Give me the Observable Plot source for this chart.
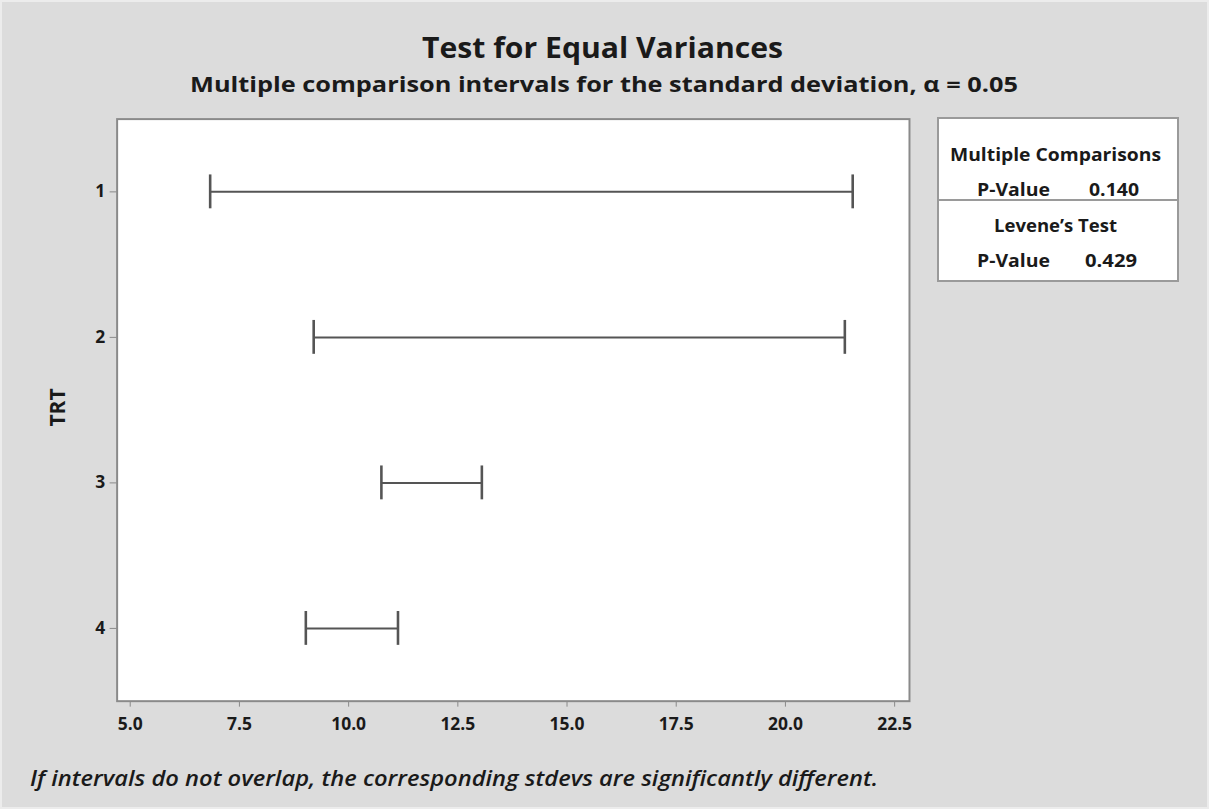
<!DOCTYPE html>
<html>
<head>
<meta charset="utf-8">
<script src="https://cdn.jsdelivr.net/npm/d3@7"></script>
<script src="https://cdn.jsdelivr.net/npm/@observablehq/plot@0.6"></script>
<style>
  html, body { margin: 0; padding: 0; background: #dcdcdc; }
  #wrap { position: relative; width: 1209px; height: 809px; background: #dcdcdc; overflow: hidden;
          font-family: "Open Sans", "Noto Sans", sans-serif; color: #1a1a1a; box-sizing: border-box; border: 2px solid #ececec; }
  .abs { position: absolute; white-space: nowrap; line-height: 1; }
  #title { font-size: 28px; font-weight: 700; }
  #subtitle { font-size: 21.5px; font-weight: 700; }
  #caption { font-size: 21px; font-style: italic; font-weight: 600; }
  #ylab { font-size: 21px; font-weight: 700; }
  #legend { left: 935px; top: 115px; background: #fff; border: 2px solid #9a9a9a; box-sizing: border-box; width: 242px; height: 165px; }
  #legend .t { position: absolute; white-space: nowrap; font-size: 17.5px; font-weight: 700; line-height: 20px; }
  #legend .div { position: absolute; left: 0; width: 100%; top: 80px; height: 0; border-top: 2px solid #9a9a9a; }
  #chart { position: absolute; left: 0; top: 0; }
  #chart svg { color: #8a8a8a; }
  #chart svg text { font-size: 17.5px !important; font-weight: 700 !important; fill: #1a1a1a !important; font-family: "Open Sans", "Noto Sans", sans-serif; }
</style>
</head>
<body>
<div id="wrap">
  <div id="chart"></div>
  <div id="title" class="abs"></div>
  <div id="subtitle" class="abs"></div>
  <div id="caption" class="abs"></div>
  <div id="ylab" class="abs"></div>
  <div id="legend" class="abs"></div>
</div>
<script>
// ---- data ----
const trt = ["1", "2", "3", "4"];
const lower = [6.83, 9.20, 10.75, 9.02];
const upper = [21.54, 21.36, 13.05, 11.13];
const xTicks = [5.0, 7.5, 10.0, 12.5, 15.0, 17.5, 20.0, 22.5];
const yLabel = "TRT";
const titleText = "Test for Equal Variances";
const subtitleText = "Multiple comparison intervals for the standard deviation, \u03B1 = 0.05";
const captionText = "If intervals do not overlap, the corresponding stdevs are significantly different.";
const legendHeads = ["Multiple Comparisons", "Levene\u2019s Test"];
const legendLabels = ["P-Value", "P-Value"];
const legendValues = ["0.140", "0.429"];

const data = trt.map((t, i) => ({trt: t, lo: lower[i], hi: upper[i]}));

// ---- text layout helpers ----
function place(el, text, opts) {
  el.textContent = text;
  el.style.left = "0px";
  el.style.top = "0px";
  const r = el.getBoundingClientRect();
  const s = opts.width ? opts.width / r.width : 1;
  el.style.transformOrigin = "0 50%";
  const left = opts.cx != null ? opts.cx - (r.width * s) / 2 : opts.x;
  el.style.left = left + "px";
  el.style.top = (opts.cy - r.height / 2) + "px";
  el.style.transform = `scaleX(${s})`;
}
const B = 2; // wrap border
place(document.getElementById("title"), titleText, {cx: 602 - B, cy: 47 - B, width: 361});
place(document.getElementById("subtitle"), subtitleText, {cx: 604 - B, cy: 84 - B, width: 828});
place(document.getElementById("caption"), captionText, {x: 30 - B, cy: 778 - B, width: 848});

// rotated y-axis title
{
  const el = document.getElementById("ylab");
  el.textContent = yLabel;
  const r = el.getBoundingClientRect();
  el.style.left = (57 - B - r.width / 2) + "px";
  el.style.top = (407 - B - r.height / 2) + "px";
  el.style.transform = "rotate(-90deg)";
  el.style.transformOrigin = "50% 50%";
}

// legend box
const lg = document.getElementById("legend");
const legendX = 937, legendY = 117;
const items = [
  {text: legendHeads[0], cx: 1053, cy: 152, width: 211},
  {text: legendLabels[0], x: 975, cy: 187, width: 73},
  {text: legendValues[0], x: 1087, cy: 187, width: 50},
  {text: legendHeads[1], cx: 1053, cy: 223, width: 123},
  {text: legendLabels[1], x: 975, cy: 258, width: 73},
  {text: legendValues[1], x: 1083, cy: 258, width: 52},
];
for (const it of items) {
  const d = document.createElement("div");
  d.className = "t";
  lg.appendChild(d);
  place(d, it.text, {
    x: it.x != null ? it.x - legendX : null,
    cx: it.cx != null ? it.cx - legendX : null,
    cy: it.cy - legendY,
    width: it.width
  });
}
const dv = document.createElement("div");
dv.className = "div";
lg.appendChild(dv);

// ---- chart ----
const lineColor = "#555";
const chart = Plot.plot({
  width: 1209,
  height: 809,
  marginLeft: 115,
  marginRight: 299,
  marginTop: 117,
  marginBottom: 108,
  style: {background: "transparent", fontFamily: "'Open Sans', 'Noto Sans', sans-serif", fontSize: "17.5px"},
  x: {domain: [4.70, 22.84], ticks: xTicks, tickFormat: d3.format(".1f"), tickSize: 6, tickPadding: 10, label: null},
  y: {type: "band", domain: trt, paddingInner: 0.767, paddingOuter: 0.3835, tickSize: 7, tickPadding: 5, label: null},
  marks: [
    Plot.frame({fill: "white", stroke: "#8a8a8a", strokeWidth: 2}),
    Plot.ruleY(data, {x1: "lo", x2: "hi", y: "trt", stroke: lineColor, strokeWidth: 2}),
    Plot.tickX(data, {x: "lo", y: "trt", stroke: lineColor, strokeWidth: 2.6}),
    Plot.tickX(data, {x: "hi", y: "trt", stroke: lineColor, strokeWidth: 2.6})
  ]
});
document.getElementById("chart").appendChild(chart);
</script>
</body>
</html>
